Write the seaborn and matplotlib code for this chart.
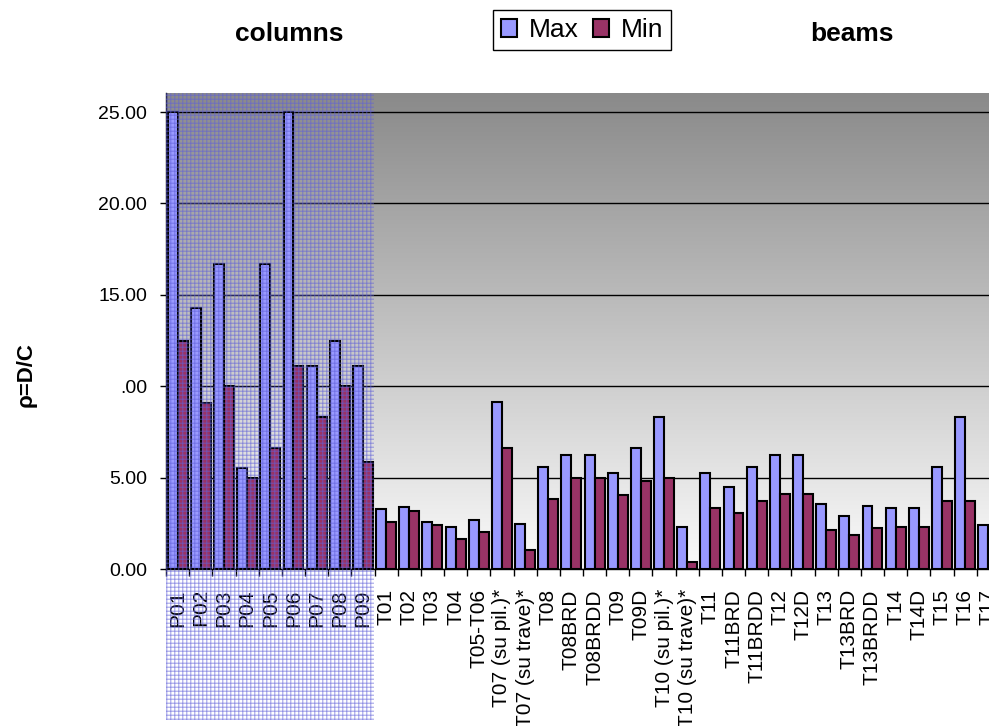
import numpy as np
import pandas as pd
import matplotlib
matplotlib.use("Agg")
import matplotlib.pyplot as plt
from matplotlib.colors import LinearSegmentedColormap
import seaborn as sns

# Structural elements: columns (pilastri) and beams (travi)
columns = ["P01", "P02", "P03", "P04", "P05", "P06", "P07", "P08", "P09"]
beams = ["T01", "T02", "T03", "T04", "T05-T06", "T07 (su pil.)*", "T07 (su trave)*",
         "T08", "T08BRD", "T08BRDD", "T09", "T09D", "T10 (su pil.)*", "T10 (su trave)*",
         "T11", "T11BRD", "T11BRDD", "T12", "T12D", "T13", "T13BRD", "T13BRDD",
         "T14", "T14D", "T15", "T16", "T17"]

# Demand/capacity ratio, maximum and minimum per element
max_columns = [25.0, 14.3, 16.7, 5.5, 16.7, 25.0, 11.1, 12.5, 11.1]
min_columns = [12.5, 9.1, 10.0, 5.0, 6.6, 11.1, 8.3, 10.0, 5.85]
max_beams = [3.26, 3.37, 2.57, 2.31, 2.68, 9.11, 2.48, 5.56, 6.24, 6.24, 5.27, 6.6,
             8.33, 2.3, 5.27, 4.5, 5.56, 6.24, 6.24, 3.53, 2.88, 3.46, 3.35, 3.35,
             5.56, 8.33, 2.41]
min_beams = [2.57, 3.15, 2.41, 1.62, 2.02, 6.6, 1.06, 3.85, 4.98, 4.98, 4.03, 4.79,
             4.98, 0.38, 3.35, 3.06, 3.74, 4.12, 4.12, 2.11, 1.84, 2.22, 2.31, 2.31,
             3.74, 3.74, 1.9]

series_names = ["Max", "Min"]
series_colors = ["#9999FF", "#993366"]
y_ticks = [0, 5, 10, 15, 20, 25]
y_tick_labels = ["0.00", "5.00", ".00", "15.00", "20.00", "25.00"]
y_top = 26.04

elements = columns + beams
n = len(elements)
df = pd.DataFrame({
    "element": elements * 2,
    "series": ["Max"] * n + ["Min"] * n,
    "rho": max_columns + max_beams + min_columns + min_beams,
})

plt.rcParams["font.family"] = ["Liberation Sans", "DejaVu Sans"]

W, H = 989, 726
fig = plt.figure(figsize=(W / 100, H / 100), dpi=100)
ax_left, ax_bottom, ax_top = 166.1, 569, 93
cat_px = 23.16
ax = fig.add_axes([ax_left / W, (H - ax_bottom) / H, n * cat_px / W, (ax_bottom - ax_top) / H])

# vertical grey-to-white background gradient of the plot area
grad = np.linspace(0, 1, 256).reshape(-1, 1)
bg_cmap = LinearSegmentedColormap.from_list("bg", ["#8a8a8a", "#fbfbfb"])
ax.imshow(grad, extent=(-0.5, n - 0.5, 0, y_top), aspect="auto", cmap=bg_cmap,
          origin="upper", zorder=0, interpolation="bilinear")

sns.barplot(data=df, x="element", y="rho", hue="series", hue_order=series_names,
            palette=series_colors, saturation=1, width=0.86, gap=0,
            edgecolor="black", linewidth=1.5, ax=ax, zorder=3)

ax.set_xlim(-0.5, n - 0.5)
ax.set_ylim(0, y_top)
ax.set_xlabel("")
ax.set_ylabel("")

ax.yaxis.grid(True, color="black", linewidth=1.0)
ax.xaxis.grid(False)
ax.set_axisbelow(True)
for side in ("top", "right"):
    ax.spines[side].set_visible(False)
for side in ("left", "bottom"):
    ax.spines[side].set_color("black")
    ax.spines[side].set_linewidth(1.0)

ax.set_yticks(y_ticks)
ax.set_yticklabels(y_tick_labels)
ax.tick_params(axis="y", length=4.5, width=1, pad=9, labelsize=14, colors="black")

ax.set_xticks(np.arange(n))
ax.set_xticklabels(elements, rotation=90, ha="center", va="top")
ax.set_xticks(np.arange(n + 1) - 0.5, minor=True)
ax.tick_params(axis="x", which="major", length=0, pad=14.5, labelsize=15, colors="black")
ax.tick_params(axis="x", which="minor", length=5, width=1, colors="black")

sns.move_legend(ax, "center", bbox_to_anchor=(582 / W, 1 - 30 / H),
                bbox_transform=fig.transFigure, ncol=2, title=None, frameon=True,
                fontsize=19, handlelength=0.6, handleheight=0.65, handletextpad=0.45,
                columnspacing=0.55, borderpad=0.3, fancybox=False, framealpha=1,
                edgecolor="black")
leg = ax.get_legend()
leg.get_frame().set_linewidth(1.0)
for h in leg.legend_handles:
    h.set_edgecolor("black")
    h.set_linewidth(1.5)

fig.text(289 / W, 1 - 34 / H, "columns", ha="center", va="center",
         fontsize=19, fontweight="bold")
fig.text(852 / W, 1 - 34 / H, "beams", ha="center", va="center",
         fontsize=19, fontweight="bold")
fig.text(26 / W, 1 - 375 / H, "ρ=D/C", ha="center", va="center", rotation=90,
         fontsize=16, fontweight="bold")

# fine blue grid pattern marking the column group, running down over its labels
x0, y0 = ax.transData.transform((-0.5, y_top))
x1, _ = ax.transData.transform((len(columns) - 0.5, 0))
yo = 6
w, h = int(round(x1 - x0)), int(round(y0 - yo))
profile = np.array([0.45, 0.2, 0.0, 0.0])
px = np.tile(profile, w // 4 + 1)[:w]
py = np.tile(profile, h // 4 + 1)[:h]
alpha = 1 - (1 - px[None, :]) * (1 - py[:, None])
rgba = np.zeros((h, w, 4))
rgba[..., 0] = 0.38
rgba[..., 1] = 0.38
rgba[..., 2] = 0.85
rgba[..., 3] = alpha
fig.figimage(rgba, xo=int(round(x0)), yo=yo, origin="lower", zorder=5)

fig.savefig("out.png", dpi=100)
